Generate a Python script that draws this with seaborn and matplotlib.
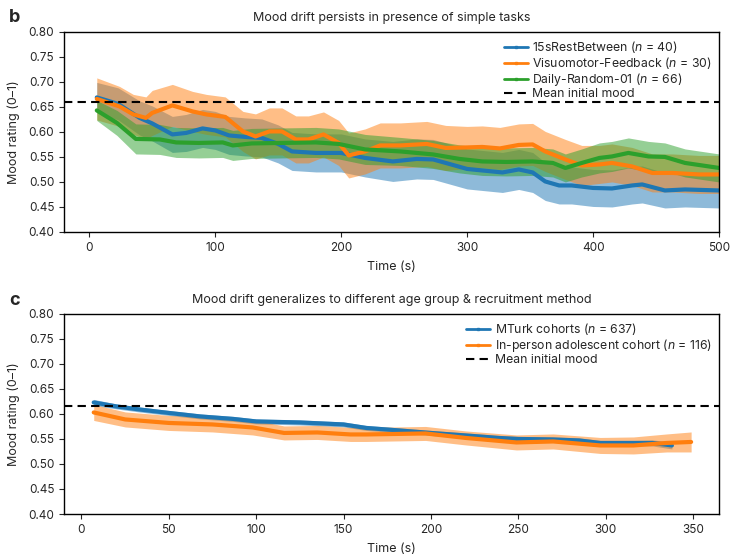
import numpy as np
import pandas as pd
import seaborn as sns
import matplotlib.pyplot as plt
from matplotlib.lines import Line2D

# panel b: simple-task cohorts (time in s, mean mood, half-width of band)
t_rest = [6, 23, 40, 50, 66, 77, 90, 100, 111, 124, 137, 150, 161, 180, 200, 219, 241, 260,
          273, 283, 300, 312, 328, 341, 352, 362, 373, 383, 400, 415, 431, 439, 457, 473, 500]
m_rest = [0.669, 0.656, 0.628, 0.617, 0.595, 0.598, 0.607, 0.603, 0.593, 0.590, 0.588, 0.576,
          0.561, 0.558, 0.558, 0.548, 0.541, 0.546, 0.545, 0.538, 0.526, 0.523, 0.519, 0.525,
          0.519, 0.501, 0.493, 0.493, 0.488, 0.487, 0.493, 0.495, 0.483, 0.485, 0.483]
e_rest = [0.030, 0.032, 0.034, 0.035, 0.036, 0.037, 0.038, 0.038, 0.038, 0.038, 0.038, 0.038,
          0.038, 0.038, 0.038, 0.038, 0.040, 0.040, 0.040, 0.040, 0.040, 0.040, 0.040, 0.040,
          0.040, 0.038, 0.037, 0.037, 0.037, 0.037, 0.037, 0.037, 0.035, 0.035, 0.035]

t_vis = [6, 24, 35, 45, 50, 66, 82, 93, 108, 122, 132, 143, 153, 164, 174, 186, 198, 206, 219,
         231, 247, 268, 283, 300, 312, 326, 341, 352, 362, 378, 391, 405, 415, 431, 447, 463, 484, 500]
m_vis = [0.666, 0.651, 0.635, 0.628, 0.638, 0.653, 0.641, 0.635, 0.630, 0.601, 0.591, 0.601,
         0.601, 0.585, 0.585, 0.595, 0.578, 0.553, 0.561, 0.573, 0.573, 0.576, 0.568, 0.569,
         0.570, 0.567, 0.574, 0.575, 0.561, 0.545, 0.533, 0.535, 0.538, 0.531, 0.518, 0.518,
         0.515, 0.515]
e_vis = [0.042, 0.040, 0.040, 0.042, 0.045, 0.042, 0.040, 0.040, 0.040, 0.040, 0.045, 0.047,
         0.047, 0.047, 0.047, 0.045, 0.045, 0.045, 0.045, 0.045, 0.045, 0.045, 0.045, 0.042,
         0.042, 0.042, 0.042, 0.042, 0.040, 0.040, 0.040, 0.038, 0.038, 0.038, 0.038, 0.038,
         0.038, 0.038]

t_daily = [6, 22, 37, 56, 69, 87, 106, 114, 129, 153, 180, 198, 219, 247, 273, 294, 312, 331,
           352, 368, 378, 391, 405, 415, 428, 444, 457, 473, 500]
m_daily = [0.643, 0.618, 0.586, 0.585, 0.579, 0.578, 0.579, 0.573, 0.577, 0.578, 0.579, 0.576,
           0.565, 0.561, 0.555, 0.546, 0.541, 0.540, 0.541, 0.538, 0.528, 0.538, 0.548, 0.551,
           0.558, 0.551, 0.550, 0.538, 0.528]
e_daily = [0.020, 0.025, 0.030, 0.030, 0.030, 0.030, 0.030, 0.030, 0.030, 0.030, 0.030, 0.030,
           0.030, 0.028, 0.028, 0.028, 0.028, 0.028, 0.028, 0.028, 0.028, 0.028, 0.030, 0.030,
           0.030, 0.030, 0.028, 0.028, 0.028]

# panel c: MTurk vs adolescents
t_mturk = [7, 20, 33, 50, 68, 87, 100, 125, 150, 163, 182, 200, 220, 239, 250, 270, 285, 297,
           316, 327, 338]
m_mturk = [0.623, 0.615, 0.609, 0.602, 0.595, 0.590, 0.585, 0.583, 0.579, 0.572, 0.567, 0.562,
           0.557, 0.552, 0.550, 0.549, 0.547, 0.542, 0.542, 0.542, 0.537]
e_mturk = [0.006, 0.005, 0.005, 0.005, 0.005, 0.005, 0.005, 0.005, 0.005, 0.005, 0.005, 0.005,
           0.005, 0.005, 0.005, 0.005, 0.005, 0.005, 0.005, 0.006, 0.007]

t_adol = [7, 25, 50, 75, 98, 116, 135, 154, 163, 197, 220, 249, 270, 297, 316, 335, 349]
m_adol = [0.603, 0.589, 0.582, 0.579, 0.573, 0.562, 0.563, 0.559, 0.559, 0.561, 0.552, 0.543,
          0.545, 0.537, 0.537, 0.542, 0.544]
e_adol = [0.016, 0.015, 0.015, 0.015, 0.015, 0.014, 0.014, 0.014, 0.014, 0.014, 0.014, 0.015,
          0.015, 0.016, 0.017, 0.018, 0.020]

init_b = 0.660
init_c = 0.615

labels_b = ['15sRestBetween ($n$ = 40)', 'Visuomotor-Feedback ($n$ = 30)', 'Daily-Random-01 ($n$ = 66)']
labels_c = ['MTurk cohorts ($n$ = 637)', 'In-person adolescent cohort ($n$ = 116)']

sns.set_style("ticks")
plt.rcParams['font.family'] = ['Inter', 'DejaVu Sans']
plt.rcParams['mathtext.fontset'] = 'custom'
plt.rcParams['mathtext.it'] = 'Inter:italic'
plt.rcParams['mathtext.rm'] = 'Inter'
colors = sns.color_palette("tab10")

fig = plt.figure(figsize=(7.36, 5.59), dpi=100)
ax1 = fig.add_axes([0.087, 0.585, 0.890, 0.358])
ax2 = fig.add_axes([0.087, 0.0805, 0.890, 0.358])


def draw(ax, series, labels, init, xlim, xticks, title):
    handles = []
    for (t, m, e), lab, c in zip(series, labels, colors):
        t = np.array(t); m = np.array(m); e = np.array(e)
        ax.fill_between(t, m - e, m + e, color=c, alpha=0.5, lw=0)
        sns.lineplot(x=t, y=m, ax=ax, color=c, lw=3)
        handles.append(Line2D([], [], color=c, lw=2, marker='s', ms=2, label=lab))
    ax.axhline(init, color='black', ls='--', lw=1.5, dashes=(4, 2.5))
    handles.append(Line2D([], [], color='black', ls='--', lw=1.5, dashes=(4, 2.5),
                          label='Mean initial mood'))
    ax.set_xlim(*xlim)
    ax.set_ylim(0.40, 0.80)
    ax.set_xticks(xticks)
    ax.set_yticks(np.arange(0.40, 0.801, 0.05))
    ax.yaxis.set_major_formatter(plt.FormatStrFormatter('%.2f'))
    ax.tick_params(labelsize=8.5, length=3.5, width=0.8)
    for s in ax.spines.values():
        s.set_linewidth(1.0)
        s.set_color('black')
    ax.set_xlabel('Time (s)', fontsize=9, labelpad=5)
    ax.set_ylabel('Mood rating (0–1)', fontsize=9, labelpad=6)
    ax.set_title(title, fontsize=9, pad=8)
    ax.legend(handles=handles, loc='upper right', frameon=False, fontsize=8.8,
              handlelength=2.0, handletextpad=0.35, labelspacing=0.0, borderaxespad=0.3,
              borderpad=0.3)


draw(ax1, [(t_rest, m_rest, e_rest), (t_vis, m_vis, e_vis), (t_daily, m_daily, e_daily)],
     labels_b, init_b, (-20, 500), [0, 100, 200, 300, 400, 500],
     'Mood drift persists in presence of simple tasks')
draw(ax2, [(t_mturk, m_mturk, e_mturk), (t_adol, m_adol, e_adol)],
     labels_c, init_c, (-10, 365), [0, 50, 100, 150, 200, 250, 300, 350],
     'Mood drift generalizes to different age group & recruitment method')

fig.text(0.012, 0.968, 'b', fontsize=13, fontweight='bold', va='center')
fig.text(0.012, 0.462, 'c', fontsize=13, fontweight='bold', va='center')

fig.savefig('out.png', dpi=100)
